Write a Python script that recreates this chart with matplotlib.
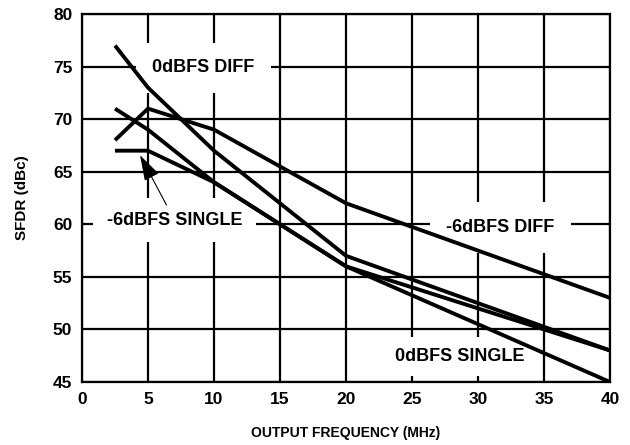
import matplotlib
matplotlib.use("Agg")
import matplotlib.pyplot as plt

plt.rcParams['font.family'] = ['Liberation Sans', 'DejaVu Sans']
plt.rcParams['font.weight'] = 'bold'

# output frequency (MHz)
freq = [2.5, 5, 10, 15, 20, 25, 30, 35, 40]

# SFDR (dBc)
diff_0dbfs = [77, 73, 67, 62, 57, 54.75, 52.5, 50.25, 48]
diff_6dbfs = [68, 71, 69, 65.5, 62, 59.75, 57.5, 55.25, 53]
single_0dbfs = [71, 69, 64, 60, 56, 53.25, 50.5, 47.75, 45]
single_6dbfs = [67, 67, 64, 60, 56, 54, 52, 50, 48]

fig = plt.figure(figsize=(6.3, 4.45), dpi=100)
ax = fig.add_axes([82/630, 1 - 382/445, 528/630, 368/445])

for y in [diff_0dbfs, diff_6dbfs, single_0dbfs, single_6dbfs]:
    ax.plot(freq, y, color='black', lw=2.8, zorder=3, solid_capstyle='butt')

ax.set_xlim(0, 40)
ax.set_ylim(45, 80)
ax.set_xticks(range(0, 41, 5))
ax.set_yticks(range(45, 81, 5))
ax.grid(True, color='black', lw=1.6)
ax.set_axisbelow(True)
ax.tick_params(length=0, pad=7, labelsize=12.5)
for s in ax.spines.values():
    s.set_linewidth(1.6)

ax.set_xlabel('OUTPUT FREQUENCY (MHz)', fontsize=10, fontweight='bold', labelpad=14)
ax.set_ylabel('SFDR (dBc)', fontsize=11, fontweight='bold', labelpad=17)

# curve labels, white boxes hide the grid behind them
box = dict(facecolor='white', edgecolor='none', pad=12)
ax.text(9.2, 74.9, '0dBFS DIFF', ha='center', va='center', fontsize=13,
        fontweight='bold', bbox=box, zorder=2)
ax.text(31.7, 59.7, '-6dBFS DIFF', ha='center', va='center', fontsize=13,
        fontweight='bold', bbox=box, zorder=2)
ax.text(28.6, 47.4, '0dBFS SINGLE', ha='center', va='center', fontsize=13,
        fontweight='bold', bbox=dict(facecolor='white', edgecolor='none', pad=8), zorder=2)
ax.text(7.0, 60.4, '-6dBFS SINGLE', ha='center', va='center', fontsize=13,
        fontweight='bold', bbox=dict(facecolor='white', edgecolor='none', pad=10), zorder=2)

ax.annotate('', xy=(4.3, 66.8), xytext=(6.5, 61.6),
            arrowprops=dict(arrowstyle='-|>,head_length=0.8,head_width=0.25',
                            color='black', lw=0.8, mutation_scale=20), zorder=4)

fig.savefig('out.png', dpi=100)
